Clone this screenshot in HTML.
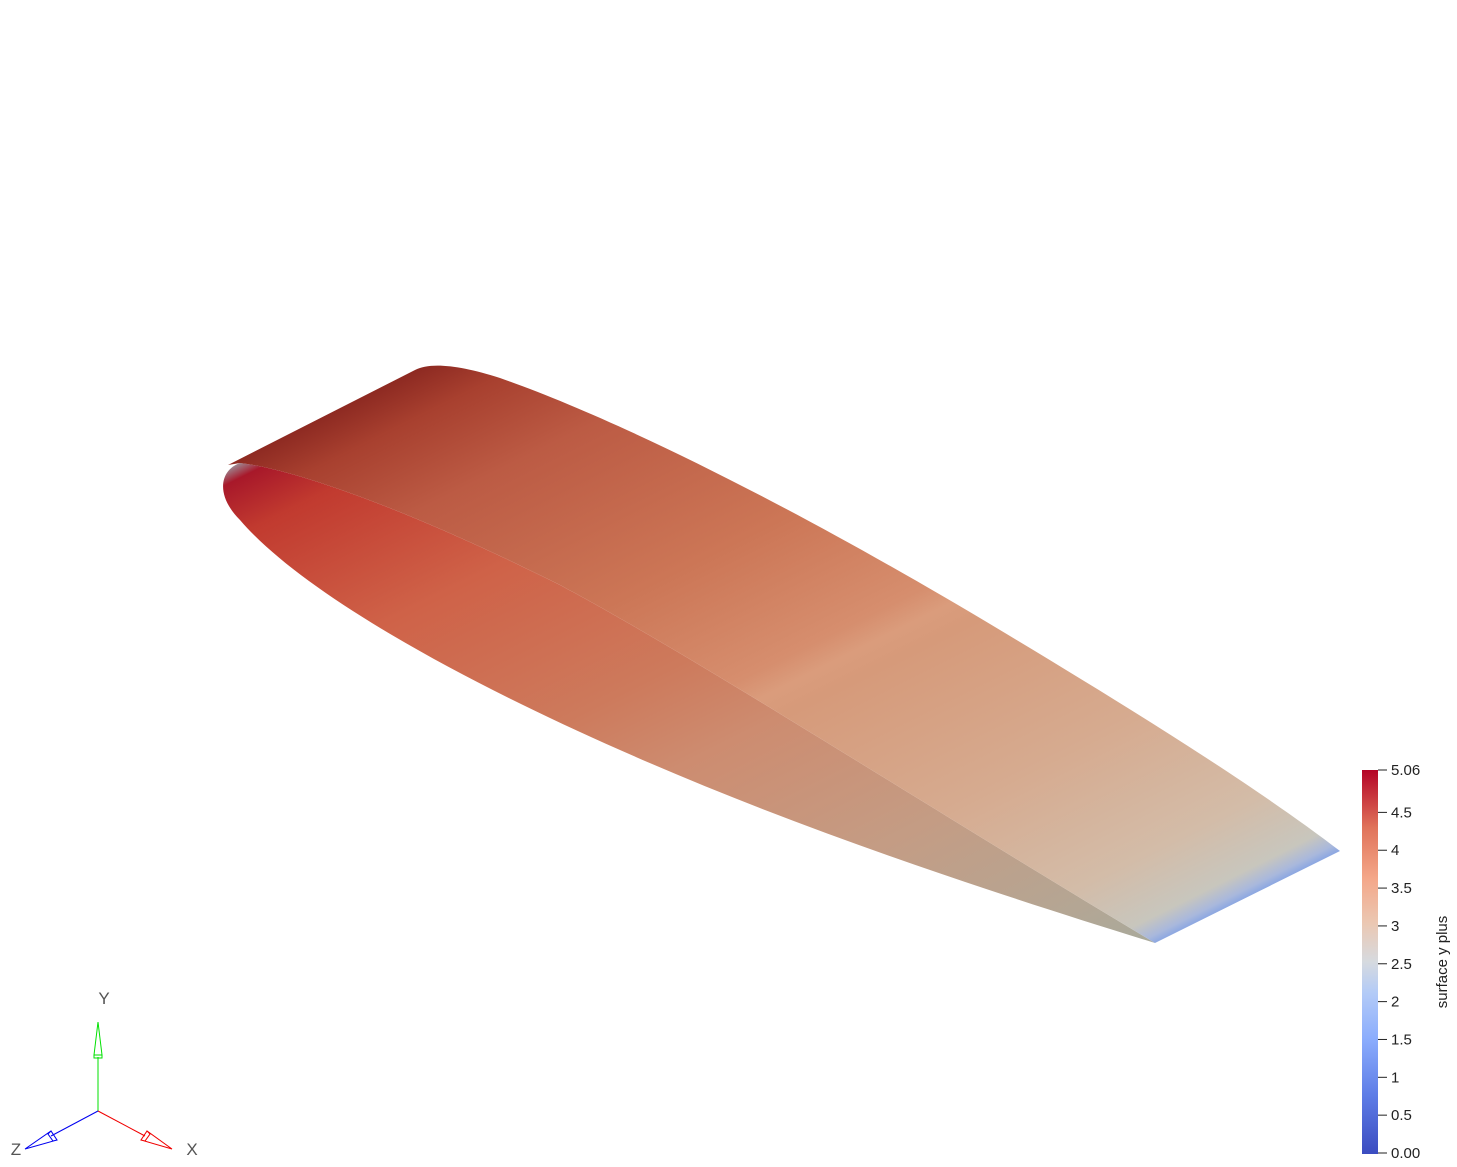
<!DOCTYPE html>
<html><head><meta charset="utf-8"><style>
html,body{margin:0;padding:0;background:#fff;}
svg{display:block;font-family:"Liberation Sans",sans-serif;}
</style></head><body>
<svg width="1457" height="1167" viewBox="0 0 1457 1167">
<defs>
<linearGradient id="gUp" gradientUnits="userSpaceOnUse" x1="228" y1="465" x2="605" y2="1219">
<stop offset="0" stop-color="#8e2a22"/>
<stop offset="0.05" stop-color="#a8402f"/>
<stop offset="0.15" stop-color="#bc5b44"/>
<stop offset="0.35" stop-color="#cc7656"/>
<stop offset="0.5" stop-color="#d68e6e"/>
<stop offset="0.53" stop-color="#da9c7c"/>
<stop offset="0.56" stop-color="#d69a7a"/>
<stop offset="0.75" stop-color="#d6ab90"/>
<stop offset="0.9" stop-color="#d3bca8"/>
<stop offset="0.97" stop-color="#c8c6bd"/>
<stop offset="0.99" stop-color="#a9b8dc"/>
<stop offset="1" stop-color="#8aa6e2"/>
</linearGradient>
<linearGradient id="gLo" gradientUnits="userSpaceOnUse" x1="228" y1="465" x2="605" y2="1219">
<stop offset="0" stop-color="#9aa0a8"/>
<stop offset="0.02" stop-color="#a8182a"/>
<stop offset="0.08" stop-color="#c13a2f"/>
<stop offset="0.25" stop-color="#cf6248"/>
<stop offset="0.45" stop-color="#cd7a5c"/>
<stop offset="0.56" stop-color="#cd8c70"/>
<stop offset="0.75" stop-color="#c49c84"/>
<stop offset="0.92" stop-color="#b4a694"/>
<stop offset="1" stop-color="#a8aa9c"/>
</linearGradient>
<linearGradient id="gCb" x1="0" y1="1" x2="0" y2="0">
<stop offset="0" stop-color="#3b4cc0"/>
<stop offset="0.15" stop-color="#5d7ce6"/>
<stop offset="0.3" stop-color="#8badfd"/>
<stop offset="0.42" stop-color="#b3cbf7"/>
<stop offset="0.5" stop-color="#d6dadf"/>
<stop offset="0.6" stop-color="#ebc8b3"/>
<stop offset="0.72" stop-color="#f4a688"/>
<stop offset="0.85" stop-color="#e0735a"/>
<stop offset="1" stop-color="#b40426"/>
</linearGradient>
</defs>
<g>
<path fill="url(#gLo)"
 d="M240,463 C300,470 420,515 560,585 C700,660 900,790 1155,943 C1000,895 800,830 620,750 C450,675 300,590 240,520 C215,495 220,470 240,463 Z"/>
<path fill="url(#gUp)"
 d="M228,465 L415,370 C430,362 460,365 500,378 C620,420 800,510 1000,630 C1150,720 1260,790 1340,851 L1155,943 C900,790 700,660 560,585 C420,515 300,470 240,463 Z"/>
</g>
<g id="cb">
<rect x="1362" y="770" width="16" height="384" fill="url(#gCb)"/>
<text transform="translate(1447,962) rotate(-90)" text-anchor="middle" font-size="15" fill="#222">surface y plus</text>
</g>
<g fill="none" stroke-width="1">
<line x1="98" y1="1111" x2="98" y2="1057" stroke="#00e000"/>
<path d="M98,1022 L102,1055 L94,1055 Z M94,1055 L102,1055 L102,1058 L94,1058 Z" stroke="#00e000"/>
<line x1="98" y1="1111" x2="145" y2="1136" stroke="#f00000"/>
<path d="M172,1149 L141,1140 L147,1131 Z M141,1140 L147,1131 L150,1134 L145,1141 Z" stroke="#f00000"/>
<line x1="98" y1="1111" x2="51" y2="1136" stroke="#0000f0"/>
<path d="M25,1149 L57,1140 L51,1131 Z M57,1140 L51,1131 L48,1134 L53,1141 Z" stroke="#0000f0"/>
<text x="104" y="1004" text-anchor="middle" font-size="17" fill="#555" stroke="none">Y</text>
<text x="192" y="1155" text-anchor="middle" font-size="17" fill="#555" stroke="none">X</text>
<text x="16" y="1155" text-anchor="middle" font-size="17" fill="#555" stroke="none">Z</text>
</g>
</svg>
<script>
var tickValues=[0,0.5,1,1.5,2,2.5,3,3.5,4,4.5,5.06];
var tickLabels=["0.00","0.5","1","1.5","2","2.5","3","3.5","4","4.5","5.06"];
var vMin=0, vMax=5.06;
function yScale(v){return 1153-(v-vMin)/(vMax-vMin)*383;}
var g=document.getElementById('cb');
var NS='http://www.w3.org/2000/svg';
tickValues.forEach(function(v,i){
  var y=yScale(v);
  var l=document.createElementNS(NS,'line');
  l.setAttribute('x1',1378);l.setAttribute('x2',1387);l.setAttribute('y1',y);l.setAttribute('y2',y);
  l.setAttribute('stroke','#222');
  
  
  g.appendChild(l);
  var t=document.createElementNS(NS,'text');
  t.setAttribute('x',1391);t.setAttribute('y',y+5);t.setAttribute('font-size','15');t.setAttribute('fill','#222');
  t.textContent=tickLabels[i];
  
  
  g.appendChild(t);
});
</script>
</body></html>
